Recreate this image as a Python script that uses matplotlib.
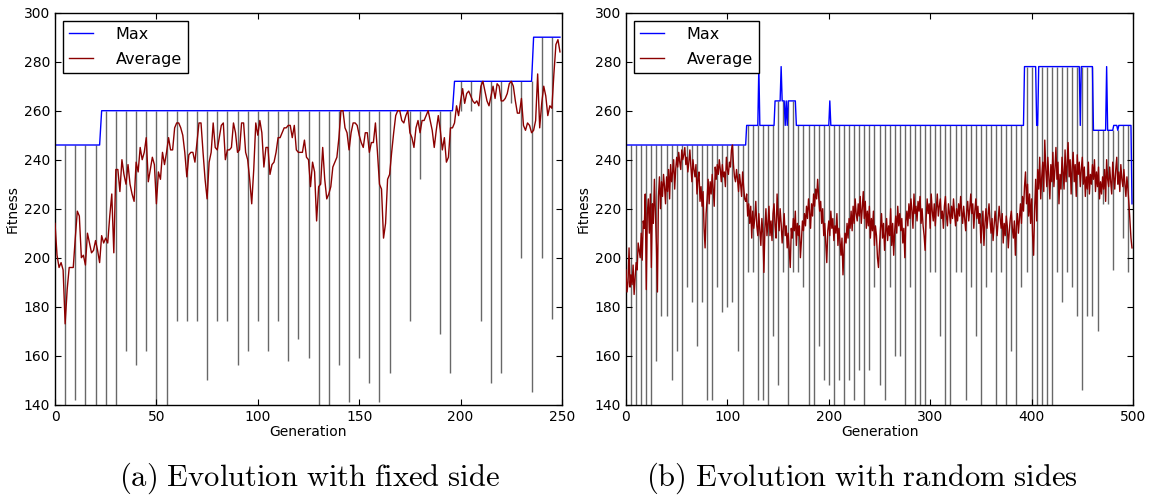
import numpy as np
import matplotlib
matplotlib.use("Agg")
import matplotlib.pyplot as plt

# ---------------- (a) evolution with fixed side ----------------
# average fitness per generation (0..249)
avg_a = [214, 201, 196, 198, 195, 173, 187, 196, 196, 196,
         208, 219, 217, 200, 201, 197, 210, 206, 202, 203,
         207, 203, 198, 209, 206, 208, 206, 217, 226, 202,
         236, 236, 227, 240, 234, 230, 238, 230, 226, 223,
         239, 235, 245, 240, 243, 249, 231, 236, 241, 238,
         222, 235, 232, 243, 238, 243, 249, 244, 244, 253,
         255, 255, 253, 250, 243, 233, 242, 243, 243, 239,
         247, 255, 255, 243, 232, 224, 239, 243, 255, 245,
         244, 249, 254, 255, 240, 244, 244, 245, 255, 251,
         243, 244, 255, 255, 243, 240, 232, 222, 236, 255,
         250, 256, 251, 237, 245, 245, 234, 238, 239, 243,
         249, 249, 251, 253, 253, 254, 254, 249, 254, 244,
         243, 243, 243, 248, 241, 240, 229, 239, 235, 215,
         229, 230, 245, 232, 224, 226, 229, 237, 239, 241,
         249, 260, 260, 253, 251, 244, 251, 255, 255, 254,
         250, 247, 245, 251, 251, 243, 247, 247, 255, 243,
         230, 228, 208, 214, 232, 234, 243, 251, 258, 260,
         260, 256, 255, 258, 260, 251, 249, 245, 253, 256,
         251, 256, 256, 258, 260, 256, 252, 245, 252, 258,
         252, 244, 249, 239, 241, 253, 253, 255, 262, 258,
         264, 269, 263, 267, 268, 266, 264, 263, 264, 262,
         270, 272, 268, 264, 262, 266, 270, 265, 271, 270,
         264, 264, 265, 267, 271, 272, 270, 264, 259, 259,
         265, 254, 252, 255, 254, 251, 252, 256, 275, 253,
         263, 270, 266, 258, 262, 261, 275, 287, 289, 284]
# max fitness as (value, number of generations)
max_a_runs = [(246, 23), (260, 174), (272, 39), (290, 14)]
# generations where the population minimum drops, and that minimum
spike_gen_a = [5, 10, 15, 20, 25, 30, 35, 40, 45, 50, 55, 60, 65, 70, 75, 80,
               85, 90, 95, 100, 105, 110, 115, 120, 125, 130, 135, 140, 145,
               150, 155, 160, 165, 175, 180, 190, 195, 200, 205, 210, 215,
               220, 225, 230, 235, 240, 245]
spike_min_a = [130, 142, 130, 130, 130, 130, 162, 156, 162, 130, 130, 174,
               174, 174, 150, 174, 174, 156, 162, 174, 162, 174, 158, 167,
               159, 130, 130, 156, 141, 159, 149, 141, 153, 174, 232, 169,
               153, 260, 260, 174, 149, 153, 263, 200, 145, 200, 175]

# ---------------- (b) evolution with random sides ----------------
# average fitness per generation (0..499)
avg_b = [195, 186, 190, 204, 188, 193, 189, 197, 185, 192,
         198, 195, 206, 203, 200, 210, 199, 215, 212, 226,
         187, 218, 224, 210, 226, 196, 222, 214, 232, 219,
         205, 186, 225, 233, 220, 231, 225, 234, 229, 222,
         233, 227, 236, 224, 238, 231, 235, 240, 228, 236,
         241, 237, 243, 239, 236, 244, 240, 242, 245, 238,
         241, 235, 239, 244, 237, 231, 240, 236, 233, 238,
         226, 232, 235, 223, 229, 221, 227, 212, 204, 218,
         224, 232, 222, 231, 226, 234, 228, 221, 237, 232,
         238, 234, 240, 236, 231, 238, 233, 235, 229, 241,
         236, 234, 239, 237, 244, 246, 238, 233, 231, 236,
         232, 227, 234, 230, 225, 235, 229, 224, 223, 226,
         217, 222, 214, 221, 208, 219, 212, 216, 223, 213,
         209, 218, 211, 205, 216, 210, 194, 212, 220, 209,
         214, 221, 209, 215, 207, 218, 222, 213, 208, 226,
         217, 211, 220, 214, 206, 212, 218, 209, 213, 204,
         210, 203, 196, 212, 208, 216, 211, 219, 205, 214,
         209, 213, 200, 207, 215, 211, 218, 213, 221, 216,
         224, 219, 212, 222, 217, 226, 221, 228, 224, 232,
         225, 219, 223, 214, 220, 209, 214, 206, 198, 211,
         215, 209, 219, 212, 216, 207, 213, 210, 218, 205,
         212, 207, 201, 208, 193, 203, 210, 206, 214, 208,
         216, 212, 219, 211, 221, 214, 224, 218, 215, 222,
         217, 225, 214, 220, 227, 216, 223, 212, 219, 213,
         221, 208, 216, 211, 219, 205, 213, 209, 200, 196,
         205, 212, 218, 208, 214, 203, 210, 216, 207, 213,
         209, 220, 205, 214, 201, 211, 217, 210, 221, 213,
         218, 211, 216, 206, 212, 200, 215, 219, 213, 222,
         216, 224, 219, 212, 226, 218, 221, 215, 223, 219,
         225, 214, 220, 213, 209, 203, 216, 224, 218, 222,
         212, 226, 219, 215, 222, 213, 220, 226, 217, 221,
         224, 216, 219, 212, 221, 225, 217, 213, 222, 218,
         214, 221, 216, 224, 218, 213, 220, 215, 222, 217,
         225, 219, 214, 221, 216, 211, 219, 223, 215, 220,
         226, 218, 222, 212, 219, 224, 216, 221, 214, 218,
         206, 213, 219, 205, 214, 220, 212, 217, 222, 215,
         210, 216, 207, 213, 219, 214, 209, 215, 221, 216,
         212, 218, 206, 214, 209, 217, 213, 204, 211, 216,
         219, 212, 208, 215, 201, 213, 218, 210, 216, 222,
         214, 225, 219, 229, 235, 222, 230, 217, 226, 214,
         224, 209, 201, 220, 232, 215, 236, 228, 241, 224,
         233, 239, 227, 248, 236, 229, 241, 233, 224, 238,
         231, 243, 229, 236, 245, 232, 239, 222, 234, 228,
         241, 235, 228, 244, 231, 238, 247, 233, 240, 226,
         237, 243, 231, 238, 225, 242, 234, 239, 229, 236,
         241, 230, 237, 225, 233, 228, 239, 226, 234, 230,
         238, 232, 240, 227, 235, 229, 237, 224, 231, 226,
         233, 228, 236, 223, 240, 232, 229, 237, 231, 226,
         239, 233, 228, 236, 241, 230, 235, 227, 238, 232,
         229, 236, 230, 225, 233, 228, 222, 215, 208, 204]
max_b_runs = [(246, 119), (254, 12), (278, 1), (254, 15), (264, 6), (278, 1),
              (264, 3), (254, 1), (264, 1), (254, 1), (264, 8), (254, 33),
              (264, 1), (254, 191), (278, 12), (254, 2), (278, 41), (254, 1),
              (278, 12), (252, 13), (278, 1), (252, 6), (254, 4), (252, 1),
              (254, 13), (222, 1)]
spike_gen_b = list(range(5, 500, 5))
spike_min_b = [130, 130, 130, 130, 130, 158, 176, 176, 150, 162,
               130, 188, 182, 164, 182, 142, 142, 188, 178, 180,
               182, 162, 130, 194, 194, 142, 142, 130, 168, 148,
               194, 130, 194, 194, 188, 130, 130, 164, 150, 148,
               130, 150, 130, 150, 142, 154, 130, 154, 188, 148,
               142, 188, 160, 160, 130, 188, 130, 130, 130, 194,
               194, 168, 130, 130, 194, 194, 142, 188, 168, 130,
               188, 194, 130, 194, 130, 162, 130, 188, 194, 130,
               130, 130, 130, 130, 194, 182, 194, 188, 176, 146,
               176, 176, 170, 222, 222, 195, 230, 208, 194]


def expand(runs):
    return np.repeat([v for v, n in runs], [n for v, n in runs])


plt.rcParams['font.family'] = 'DejaVu Sans'
plt.rcParams['mathtext.fontset'] = 'cm'

fig = plt.figure(figsize=(11.53, 4.98), dpi=100)
ax_a = fig.add_axes([55 / 1153, 1 - 404.7 / 498, 507 / 1153, 392 / 498])
ax_b = fig.add_axes([626 / 1153, 1 - 404.7 / 498, 507 / 1153, 392 / 498])


def draw(ax, avg, max_runs, sgen, smin, xmax, xticks):
    mx = expand(max_runs)
    gens = np.arange(len(mx))
    ax.vlines(sgen, smin, mx[sgen], color='#4d4d4d', lw=1.0, alpha=0.85, zorder=1)
    ax.plot(gens, mx, color='#0000ff', lw=1.0, label='Max', zorder=2)
    ax.plot(np.arange(len(avg)), avg, color='#8b0000', lw=1.0,
            label='Average', zorder=3)
    ax.set_xlim(0, xmax)
    ax.set_ylim(140, 300)
    ax.set_xticks(xticks)
    ax.set_yticks(range(140, 301, 20))
    ax.tick_params(direction='in', top=True, right=True, length=4, labelsize=10)
    ax.set_xlabel('Generation', fontsize=10, labelpad=1)
    ax.set_ylabel('Fitness', fontsize=10, labelpad=3)
    leg = ax.legend(loc='upper left', fontsize=11.5, fancybox=False,
                    framealpha=1, edgecolor='black', handlelength=1.5,
                    handletextpad=1.4, borderaxespad=0.5, labelspacing=0.6)
    leg.get_frame().set_linewidth(1.0)
    for s in ax.spines.values():
        s.set_linewidth(1.0)


draw(ax_a, avg_a, max_a_runs, spike_gen_a, spike_min_a, 250, range(0, 251, 50))
draw(ax_b, avg_b, max_b_runs, spike_gen_b, spike_min_b, 500, range(0, 501, 100))

fig.text(309 / 1153, 1 - 478 / 498, r'$\mathrm{(a)\ Evolution\ with\ fixed\ side}$',
         ha='center', va='center', fontsize=22)
fig.text(862 / 1153, 1 - 478 / 498, r'$\mathrm{(b)\ Evolution\ with\ random\ sides}$',
         ha='center', va='center', fontsize=22)

fig.savefig('out.png', dpi=100, facecolor='white')
